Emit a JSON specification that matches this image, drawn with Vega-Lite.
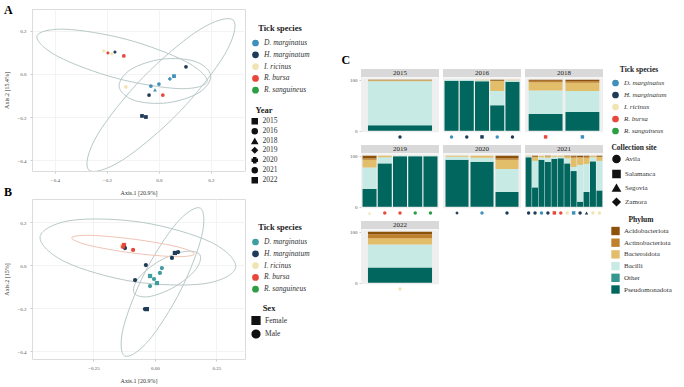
{
  "$schema": "https://vega.github.io/schema/vega-lite/v6.json",
  "padding": {"left": 3, "top": 3, "right": 0, "bottom": 0},
  "background": "white",
  "config": {
    "font": "Liberation Serif",
    "view": {"stroke": "#dcdcdc"},
    "axis": {"labelFontSize": 5, "titleFontSize": 6, "labelColor": "#555", "titleColor": "#333", "tickSize": 2, "tickColor": "#ccc", "domain": false, "grid": true, "gridColor": "#f3f3f3", "titleFontWeight": "normal", "labelPadding": 4, "titlePadding": 7, "labelOverlap": false},
    "legend": {"titleFontSize": 8.5, "labelFontSize": 7.5, "titleFontWeight": "bold", "titleAnchor": "middle", "labelColor": "#333", "titleColor": "#222", "titlePadding": 3},
    "header": {"title": null, "labelExpr": "''", "labelFontSize": 1, "labelPadding": 0, "titlePadding": 0},
    "title": {"fontSize": 12, "fontWeight": "bold", "font": "Liberation Serif", "anchor": "start", "frame": "bounds"}
  },
  "datasets": {
    "ellA": [
      {"e": "a1", "i": 0, "x": 0.185, "y": -0.036}, {"e": "a1", "i": 1, "x": 0.075, "y": -0.068}, {"e": "a1", "i": 2, "x": -0.163, "y": -0.020}, {"e": "a1", "i": 3, "x": -0.388, "y": 0.081},
      {"e": "a1", "i": 4, "x": -0.469, "y": 0.176}, {"e": "a1", "i": 5, "x": -0.359, "y": 0.208}, {"e": "a1", "i": 6, "x": -0.122, "y": 0.160}, {"e": "a1", "i": 7, "x": 0.103, "y": 0.058},
      {"e": "a2", "i": 0, "x": 0.199, "y": -0.007}, {"e": "a2", "i": 1, "x": 0.155, "y": -0.086}, {"e": "a2", "i": 2, "x": 0.033, "y": -0.134}, {"e": "a2", "i": 3, "x": -0.094, "y": -0.123},
      {"e": "a2", "i": 4, "x": -0.153, "y": -0.059}, {"e": "a2", "i": 5, "x": -0.108, "y": 0.021}, {"e": "a2", "i": 6, "x": 0.013, "y": 0.069}, {"e": "a2", "i": 7, "x": 0.140, "y": 0.058},
      {"e": "a3", "i": 0, "x": 0.286, "y": 0.250}, {"e": "a3", "i": 1, "x": 0.253, "y": 0.091}, {"e": "a3", "i": 2, "x": 0.077, "y": -0.179}, {"e": "a3", "i": 3, "x": -0.140, "y": -0.400},
      {"e": "a3", "i": 4, "x": -0.270, "y": -0.446}, {"e": "a3", "i": 5, "x": -0.238, "y": -0.286}, {"e": "a3", "i": 6, "x": -0.062, "y": -0.017}, {"e": "a3", "i": 7, "x": 0.155, "y": 0.205}
    ],
    "ptsA": [
      {"x": -0.212, "y": 0.107, "species": "I. ricinus", "year": "2019"},
      {"x": -0.196, "y": 0.098, "species": "R. bursa", "year": "2019"},
      {"x": -0.181, "y": 0.093, "species": "I. ricinus", "year": "2019"},
      {"x": -0.169, "y": 0.102, "species": "H. marginatum", "year": "2019"},
      {"x": -0.135, "y": 0.084, "species": "R. bursa", "year": "2021"},
      {"x": 0.104, "y": 0.033, "species": "H. marginatum", "year": "2016"},
      {"x": 0.042, "y": -0.023, "species": "D. marginatus", "year": "2020"},
      {"x": -0.127, "y": -0.060, "species": "I. ricinus", "year": "2021"},
      {"x": -0.031, "y": -0.056, "species": "D. marginatus", "year": "2016"},
      {"x": 0.0, "y": -0.047, "species": "D. marginatus", "year": "2016"},
      {"x": -0.015, "y": -0.074, "species": "D. marginatus", "year": "2018"},
      {"x": -0.038, "y": -0.098, "species": "H. marginatum", "year": "2016"},
      {"x": 0.015, "y": -0.098, "species": "R. bursa", "year": "2021"},
      {"x": -0.065, "y": -0.195, "species": "H. marginatum", "year": "2015"},
      {"x": -0.050, "y": -0.200, "species": "H. marginatum", "year": "2015"},
      {"x": 0.058, "y": -0.010, "species": "D. marginatus", "year": "2022"}
    ],
    "ellB": [
      {"e": "b1", "i": 0, "x": 0.328, "y": -0.011}, {"e": "b1", "i": 1, "x": 0.199, "y": -0.087}, {"e": "b1", "i": 2, "x": -0.088, "y": -0.077}, {"e": "b1", "i": 3, "x": -0.364, "y": 0.014},
      {"e": "b1", "i": 4, "x": -0.467, "y": 0.132}, {"e": "b1", "i": 5, "x": -0.337, "y": 0.208}, {"e": "b1", "i": 6, "x": -0.050, "y": 0.198}, {"e": "b1", "i": 7, "x": 0.226, "y": 0.107},
      {"e": "b2", "i": 0, "x": 0.160, "y": 0.051}, {"e": "b2", "i": 1, "x": 0.085, "y": 0.039}, {"e": "b2", "i": 2, "x": -0.093, "y": 0.056}, {"e": "b2", "i": 3, "x": -0.269, "y": 0.092},
      {"e": "b2", "i": 4, "x": -0.339, "y": 0.126}, {"e": "b2", "i": 5, "x": -0.263, "y": 0.138}, {"e": "b2", "i": 6, "x": -0.086, "y": 0.120}, {"e": "b2", "i": 7, "x": 0.090, "y": 0.085},
      {"e": "b3", "i": 0, "x": 0.184, "y": 0.265}, {"e": "b3", "i": 1, "x": 0.190, "y": 0.134}, {"e": "b3", "i": 2, "x": 0.103, "y": -0.121}, {"e": "b3", "i": 3, "x": -0.026, "y": -0.352},
      {"e": "b3", "i": 4, "x": -0.123, "y": -0.423}, {"e": "b3", "i": 5, "x": -0.129, "y": -0.293}, {"e": "b3", "i": 6, "x": -0.042, "y": -0.037}, {"e": "b3", "i": 7, "x": 0.087, "y": 0.194},
      {"e": "b4", "i": 0, "x": 0.183, "y": 0.047}, {"e": "b4", "i": 1, "x": 0.165, "y": -0.022}, {"e": "b4", "i": 2, "x": 0.079, "y": -0.102}, {"e": "b4", "i": 3, "x": -0.024, "y": -0.147},
      {"e": "b4", "i": 4, "x": -0.085, "y": -0.130}, {"e": "b4", "i": 5, "x": -0.067, "y": -0.061}, {"e": "b4", "i": 6, "x": 0.018, "y": 0.019}, {"e": "b4", "i": 7, "x": 0.122, "y": 0.063}
    ],
    "ptsB": [
      {"x": -0.134, "y": 0.088, "species": "I. ricinus", "sex": "Female"},
      {"x": -0.126, "y": 0.093, "species": "R. bursa", "sex": "Female"},
      {"x": -0.122, "y": 0.079, "species": "H. marginatum", "sex": "Male"},
      {"x": -0.130, "y": 0.084, "species": "R. bursa", "sex": "Male"},
      {"x": -0.089, "y": 0.070, "species": "R. bursa", "sex": "Male"},
      {"x": 0.081, "y": 0.056, "species": "H. marginatum", "sex": "Female"},
      {"x": 0.094, "y": 0.060, "species": "H. marginatum", "sex": "Male"},
      {"x": 0.069, "y": 0.033, "species": "H. marginatum", "sex": "Male"},
      {"x": -0.037, "y": 0.0, "species": "H. marginatum", "sex": "Male"},
      {"x": 0.028, "y": -0.014, "species": "D. marginatus", "sex": "Male"},
      {"x": -0.081, "y": -0.070, "species": "H. marginatum", "sex": "Male"},
      {"x": -0.020, "y": -0.051, "species": "D. marginatus", "sex": "Female"},
      {"x": -0.004, "y": -0.065, "species": "D. marginatus", "sex": "Male"},
      {"x": 0.020, "y": -0.037, "species": "D. marginatus", "sex": "Male"},
      {"x": 0.008, "y": -0.084, "species": "D. marginatus", "sex": "Female"},
      {"x": -0.020, "y": -0.098, "species": "D. marginatus", "sex": "Male"},
      {"x": -0.033, "y": -0.205, "species": "H. marginatum", "sex": "Female"},
      {"x": -0.041, "y": -0.205, "species": "H. marginatum", "sex": "Male"}
    ],
    "samples": [
      {"year": "2015", "sample": "01", "species": "H. marginatum", "site": "Avila", "Pseudomonadota": 11, "Other": 0, "Bacilli": 86, "Bacteroidota": 2, "Actinobacteriota": 0, "Acidobacteriota": 1},
      {"year": "2016", "sample": "01", "species": "D. marginatus", "site": "Avila", "Pseudomonadota": 98, "Other": 0, "Bacilli": 2, "Bacteroidota": 0, "Actinobacteriota": 0, "Acidobacteriota": 0},
      {"year": "2016", "sample": "02", "species": "H. marginatum", "site": "Avila", "Pseudomonadota": 98, "Other": 0, "Bacilli": 2, "Bacteroidota": 0, "Actinobacteriota": 0, "Acidobacteriota": 0},
      {"year": "2016", "sample": "03", "species": "H. marginatum", "site": "Salamanca", "Pseudomonadota": 97, "Other": 0, "Bacilli": 2, "Bacteroidota": 1, "Actinobacteriota": 0, "Acidobacteriota": 0},
      {"year": "2016", "sample": "04", "species": "D. marginatus", "site": "Avila", "Pseudomonadota": 50, "Other": 0, "Bacilli": 28, "Bacteroidota": 20, "Actinobacteriota": 0, "Acidobacteriota": 2},
      {"year": "2016", "sample": "05", "species": "H. marginatum", "site": "Avila", "Pseudomonadota": 96, "Other": 0, "Bacilli": 3, "Bacteroidota": 1, "Actinobacteriota": 0, "Acidobacteriota": 0},
      {"year": "2018", "sample": "01", "species": "R. bursa", "site": "Salamanca", "Pseudomonadota": 33, "Other": 0, "Bacilli": 46, "Bacteroidota": 16, "Actinobacteriota": 3, "Acidobacteriota": 2},
      {"year": "2018", "sample": "02", "species": "D. marginatus", "site": "Salamanca", "Pseudomonadota": 37, "Other": 0, "Bacilli": 41, "Bacteroidota": 16, "Actinobacteriota": 3, "Acidobacteriota": 3},
      {"year": "2019", "sample": "01", "species": "I. ricinus", "site": "Segovia", "Pseudomonadota": 35, "Other": 0, "Bacilli": 42, "Bacteroidota": 15, "Actinobacteriota": 3, "Acidobacteriota": 5},
      {"year": "2019", "sample": "02", "species": "R. bursa", "site": "Avila", "Pseudomonadota": 85, "Other": 0, "Bacilli": 12, "Bacteroidota": 3, "Actinobacteriota": 0, "Acidobacteriota": 0},
      {"year": "2019", "sample": "03", "species": "R. bursa", "site": "Avila", "Pseudomonadota": 99, "Other": 0, "Bacilli": 1, "Bacteroidota": 0, "Actinobacteriota": 0, "Acidobacteriota": 0},
      {"year": "2019", "sample": "04", "species": "R. sanguineus", "site": "Avila", "Pseudomonadota": 99, "Other": 0, "Bacilli": 1, "Bacteroidota": 0, "Actinobacteriota": 0, "Acidobacteriota": 0},
      {"year": "2019", "sample": "05", "species": "R. sanguineus", "site": "Avila", "Pseudomonadota": 99, "Other": 0, "Bacilli": 1, "Bacteroidota": 0, "Actinobacteriota": 0, "Acidobacteriota": 0},
      {"year": "2020", "sample": "01", "species": "H. marginatum", "site": "Zamora", "Pseudomonadota": 92, "Other": 0, "Bacilli": 6, "Bacteroidota": 2, "Actinobacteriota": 0, "Acidobacteriota": 0},
      {"year": "2020", "sample": "02", "species": "D. marginatus", "site": "Avila", "Pseudomonadota": 88, "Other": 0, "Bacilli": 8, "Bacteroidota": 4, "Actinobacteriota": 0, "Acidobacteriota": 0},
      {"year": "2020", "sample": "03", "species": "H. marginatum", "site": "Avila", "Pseudomonadota": 29, "Other": 0, "Bacilli": 45, "Bacteroidota": 18, "Actinobacteriota": 3, "Acidobacteriota": 5},
      {"year": "2021", "sample": "01", "species": "H. marginatum", "site": "Avila", "Pseudomonadota": 97, "Other": 0, "Bacilli": 2, "Bacteroidota": 1, "Actinobacteriota": 0, "Acidobacteriota": 0},
      {"year": "2021", "sample": "02", "species": "H. marginatum", "site": "Avila", "Pseudomonadota": 38, "Other": 0, "Bacilli": 52, "Bacteroidota": 8, "Actinobacteriota": 0, "Acidobacteriota": 2},
      {"year": "2021", "sample": "03", "species": "D. marginatus", "site": "Avila", "Pseudomonadota": 92, "Other": 0, "Bacilli": 5, "Bacteroidota": 3, "Actinobacteriota": 0, "Acidobacteriota": 0},
      {"year": "2021", "sample": "04", "species": "H. marginatum", "site": "Avila", "Pseudomonadota": 88, "Other": 0, "Bacilli": 8, "Bacteroidota": 3, "Actinobacteriota": 0, "Acidobacteriota": 1},
      {"year": "2021", "sample": "05", "species": "R. bursa", "site": "Salamanca", "Pseudomonadota": 94, "Other": 0, "Bacilli": 4, "Bacteroidota": 2, "Actinobacteriota": 0, "Acidobacteriota": 0},
      {"year": "2021", "sample": "06", "species": "R. bursa", "site": "Avila", "Pseudomonadota": 95, "Other": 0, "Bacilli": 3, "Bacteroidota": 2, "Actinobacteriota": 0, "Acidobacteriota": 0},
      {"year": "2021", "sample": "07", "species": "I. ricinus", "site": "Avila", "Pseudomonadota": 85, "Other": 0, "Bacilli": 10, "Bacteroidota": 4, "Actinobacteriota": 0, "Acidobacteriota": 1},
      {"year": "2021", "sample": "08", "species": "D. marginatus", "site": "Salamanca", "Pseudomonadota": 70, "Other": 0, "Bacilli": 8, "Bacteroidota": 18, "Actinobacteriota": 2, "Acidobacteriota": 2},
      {"year": "2021", "sample": "09", "species": "H. marginatum", "site": "Avila", "Pseudomonadota": 10, "Other": 0, "Bacilli": 72, "Bacteroidota": 15, "Actinobacteriota": 0, "Acidobacteriota": 3},
      {"year": "2021", "sample": "10", "species": "H. marginatum", "site": "Segovia", "Pseudomonadota": 29, "Other": 0, "Bacilli": 55, "Bacteroidota": 12, "Actinobacteriota": 2, "Acidobacteriota": 2},
      {"year": "2021", "sample": "11", "species": "I. ricinus", "site": "Avila", "Pseudomonadota": 89, "Other": 0, "Bacilli": 8, "Bacteroidota": 3, "Actinobacteriota": 0, "Acidobacteriota": 0},
      {"year": "2021", "sample": "12", "species": "I. ricinus", "site": "Avila", "Pseudomonadota": 32, "Other": 0, "Bacilli": 58, "Bacteroidota": 8, "Actinobacteriota": 0, "Acidobacteriota": 2},
      {"year": "2022", "sample": "01", "species": "I. ricinus", "site": "Avila", "Pseudomonadota": 30, "Other": 0, "Bacilli": 45, "Bacteroidota": 12, "Actinobacteriota": 8, "Acidobacteriota": 5}
    ]
  },
  "hconcat": [
    {
      "vconcat": [
        {
          "width": 213, "height": 162,
          "title": {"text": "A", "offset": -8},
          "layer": [
            {
              "data": {"name": "ellA"},
              "mark": {"type": "line", "interpolate": "cardinal-closed", "strokeWidth": 1, "color": "#b9c8c8", "clip": true},
              "encoding": {
                "x": {"field": "x", "type": "quantitative", "scale": {"domain": [-0.488, 0.331], "nice": false, "zero": false}, "axis": {"title": "Axis.1   [20.9%]", "values": [-0.4, -0.2, 0, 0.2], "format": ".1f"}},
                "y": {"field": "y", "type": "quantitative", "scale": {"domain": [-0.451, 0.302], "nice": false, "zero": false}, "axis": {"title": "Axis.2   [15.4%]", "values": [-0.4, -0.2, 0, 0.2], "format": ".1f"}},
                "detail": {"field": "e"},
                "order": {"field": "i"}
              }
            },
            {
              "data": {"name": "ptsA"},
              "mark": {"type": "point", "filled": true, "size": 14, "opacity": 1},
              "encoding": {
                "x": {"field": "x", "type": "quantitative"},
                "y": {"field": "y", "type": "quantitative"},
                "color": {"field": "species", "type": "nominal", "scale": {"domain": ["D. marginatus", "H. marginatum", "I. ricinus", "R. bursa", "R. sanguineus"], "range": ["#3f8fbb", "#1f3b57", "#f1e4b3", "#e8483b", "#2e9e45"]},
                  "legend": {"title": "Tick species", "orient": "none", "legendX": 219, "legendY": 15, "labelFontStyle": "italic", "symbolSize": 45, "symbolType": "circle", "rowPadding": 3.8, "titlePadding": 6}},
                "shape": {"field": "year", "type": "nominal", "scale": {"domain": ["2015", "2016", "2018", "2019", "2020", "2021", "2022"], "range": ["square", "circle", "triangle-up", "diamond", "cross", "circle", "square"]},
                  "legend": {"title": "Year", "orient": "none", "legendX": 219, "legendY": 97, "symbolSize": 25, "rowPadding": -5.3, "symbolFillColor": "#111", "symbolStrokeColor": "#111"}}
              }
            }
          ]
        },
        {
          "width": 213, "height": 160,
          "title": {"text": "B", "offset": 0},
          "layer": [
            {
              "data": {"name": "ellB"},
              "transform": [{"filter": "datum.e != 'b2'"}],
              "mark": {"type": "line", "interpolate": "cardinal-closed", "strokeWidth": 1, "color": "#b9c8c8", "clip": true},
              "encoding": {
                "x": {"field": "x", "type": "quantitative", "scale": {"domain": [-0.5, 0.366], "nice": false, "zero": false}, "axis": {"title": "Axis.1   [20.9%]", "values": [-0.25, 0, 0.25], "format": ".2f"}},
                "y": {"field": "y", "type": "quantitative", "scale": {"domain": [-0.437, 0.307], "nice": false, "zero": false}, "axis": {"title": "Axis.2   [15%]", "values": [-0.4, -0.2, 0, 0.2], "format": ".1f"}},
                "detail": {"field": "e"},
                "order": {"field": "i"}
              }
            },
            {
              "data": {"name": "ellB"},
              "transform": [{"filter": "datum.e == 'b2'"}],
              "mark": {"type": "line", "interpolate": "cardinal-closed", "strokeWidth": 1, "color": "#efc4b4", "clip": true},
              "encoding": {
                "x": {"field": "x", "type": "quantitative"},
                "y": {"field": "y", "type": "quantitative"},
                "order": {"field": "i"}
              }
            },
            {
              "data": {"name": "ptsB"},
              "mark": {"type": "point", "filled": true, "size": 18, "opacity": 1},
              "encoding": {
                "x": {"field": "x", "type": "quantitative"},
                "y": {"field": "y", "type": "quantitative"},
                "color": {"field": "species", "type": "nominal", "scale": {"domain": ["D. marginatus", "H. marginatum", "I. ricinus", "R. bursa", "R. sanguineus"], "range": ["#3f9c9f", "#1f3b57", "#f1e4b3", "#e8483b", "#2e9e45"]},
                  "legend": {"title": "Tick species", "orient": "none", "legendX": 219, "legendY": 24, "labelFontStyle": "italic", "symbolSize": 45, "symbolType": "circle", "rowPadding": 3.8, "titlePadding": 6}},
                "shape": {"field": "sex", "type": "nominal", "scale": {"domain": ["Female", "Male"], "range": ["square", "circle"]},
                  "legend": {"title": "Sex", "orient": "none", "legendX": 219, "legendY": 105, "symbolSize": 60, "rowPadding": -0.5, "symbolFillColor": "#111", "symbolStrokeColor": "#111"}}
              }
            }
          ]
        }
      ],
      "spacing": -11,
      "resolve": {"scale": {"color": "independent", "shape": "independent"}, "legend": {"color": "independent", "shape": "independent"}}
    },
    {
      "vconcat": [
        {"width": 10, "height": 45, "mark": {"type": "rule", "opacity": 0}, "encoding": {}, "view": {"stroke": null}},
        {
          "data": {"name": "samples"},
          "title": {"text": "C", "anchor": "start", "frame": "bounds", "offset": 1, "dx": -8},
          "facet": {"field": "year", "type": "ordinal", "header": {"title": null, "labelExpr": "''", "labelFontSize": 1, "labelPadding": 0}},
          "columns": 3,
          "spacing": {"row": 3, "column": 4},
          "spec": {
            "width": 78, "height": 72,
            "view": {"stroke": null},
            "layer": [
              {
                "transform": [{"aggregate": [{"op": "count", "as": "n"}], "groupby": ["year"]}],
                "mark": {"type": "rect", "color": "#efefef"},
                "encoding": {"y": {"datum": -3, "type": "quantitative"}, "y2": {"datum": 103}}
              },
              {
                "transform": [{"aggregate": [{"op": "count", "as": "n"}], "groupby": ["year"]}],
                "mark": {"type": "rect", "color": "#d9d9d9"},
                "encoding": {"y": {"datum": 105, "type": "quantitative"}, "y2": {"datum": 121}}
              },
              {
                "transform": [{"aggregate": [{"op": "count", "as": "n"}], "groupby": ["year"]}],
                "mark": {"type": "text", "fontSize": 7, "color": "#222", "baseline": "middle"},
                "encoding": {"y": {"datum": 113, "type": "quantitative"}, "text": {"field": "year"}}
              },
              {
                "transform": [
                  {"fold": ["Pseudomonadota", "Other", "Bacilli", "Bacteroidota", "Actinobacteriota", "Acidobacteriota"], "as": ["phylum", "pct"]},
                  {"window": [{"op": "row_number", "as": "rank"}], "groupby": ["year", "sample"]}
                ],
                "mark": {"type": "bar"},
                "encoding": {
                  "x": {"field": "sample", "type": "nominal", "axis": null, "scale": {"paddingInner": 0.08, "paddingOuter": 0.1}},
                  "y": {"field": "pct", "type": "quantitative", "stack": "zero", "scale": {"domain": [-20, 121], "nice": false, "zero": false}, "axis": {"title": null, "values": [0, 25, 50, 75, 100], "grid": false, "labelFontSize": 5, "labelOverlap": false, "labelFlush": false, "labelPadding": 2}},
                  "order": {"field": "rank", "type": "quantitative", "sort": "ascending"},
                  "fill": {"field": "phylum", "type": "nominal",
                    "scale": {"domain": ["Acidobacteriota", "Actinobacteriota", "Bacteroidota", "Bacilli", "Other", "Pseudomonadota"], "range": ["#8c510a", "#bf812d", "#e2bd6a", "#c7eae5", "#35978f", "#01665e"]},
                    "legend": {"title": "Phylum", "orient": "none", "legendX": 250, "legendY": 207, "symbolType": "square", "symbolSize": 70, "rowPadding": 2.7, "symbolStrokeWidth": 0, "titleFontSize": 7.5, "labelFontSize": 7}}
                }
              },
              {
                "mark": {"type": "point", "filled": true, "size": 12, "opacity": 1},
                "encoding": {
                  "x": {"field": "sample", "type": "nominal"},
                  "y": {"datum": -12, "type": "quantitative"},
                  "color": {"field": "species", "type": "nominal", "scale": {"domain": ["D. marginatus", "H. marginatum", "I. ricinus", "R. bursa", "R. sanguineus"], "range": ["#3f8fbb", "#1f3b57", "#f1e4b3", "#e8483b", "#2e9e45"]},
                    "legend": {"title": "Tick species", "orient": "none", "legendX": 250, "legendY": 57, "labelFontStyle": "italic", "symbolSize": 45, "symbolType": "circle", "rowPadding": 4, "titlePadding": 5, "titleFontSize": 7.5, "labelFontSize": 7}},
                  "shape": {"field": "site", "type": "nominal", "scale": {"domain": ["Avila", "Salamanca", "Segovia", "Zamora"], "range": ["circle", "square", "triangle-up", "diamond"]},
                    "legend": {"title": "Collection site", "orient": "none", "legendX": 250, "legendY": 135, "symbolSize": 50, "rowPadding": 0, "symbolFillColor": "#111", "symbolStrokeColor": "#111", "titleFontSize": 7.5, "labelFontSize": 7}}
                }
              }
            ]
          },
          "resolve": {"scale": {"x": "independent"}}
        }
      ],
      "spacing": 0
    }
  ],
  "spacing": 30,
  "resolve": {"scale": {"color": "independent", "shape": "independent", "fill": "independent"}, "legend": {"color": "independent", "shape": "independent", "fill": "independent"}}
}
